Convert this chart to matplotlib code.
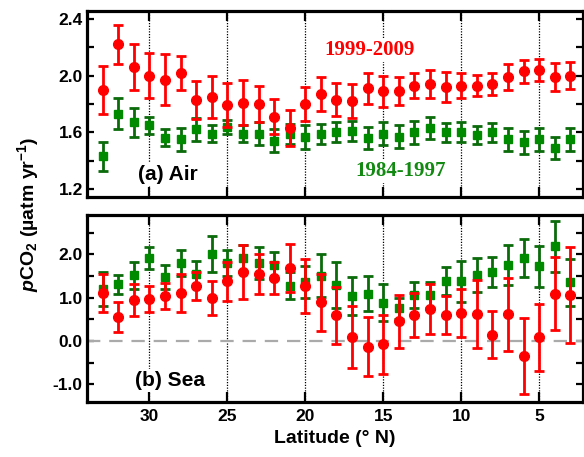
import numpy as np
import matplotlib
matplotlib.use('Agg')
import matplotlib.pyplot as plt
from matplotlib.ticker import MultipleLocator

plt.rcParams['font.family'] = ['Liberation Sans', 'DejaVu Sans']
plt.rcParams['font.weight'] = 'bold'
plt.rcParams['mathtext.fontset'] = 'custom'
plt.rcParams['mathtext.rm'] = 'Liberation Sans:bold'
plt.rcParams['mathtext.it'] = 'Liberation Sans:bold:italic'
plt.rcParams['mathtext.bf'] = 'Liberation Sans:bold'

# latitude bins (deg N)
lat = np.arange(33, 2, -1)

# (a) Air, 1999-2009
air_new = [1.90, 2.22, 2.06, 2.00, 1.97, 2.02, 1.83, 1.85, 1.79, 1.81, 1.80, 1.71, 1.63, 1.80, 1.87,
           1.83, 1.82, 1.91, 1.89, 1.89, 1.93, 1.94, 1.92, 1.93, 1.93, 1.94, 1.99, 2.03, 2.04, 1.99, 2.00]
air_new_err = [0.17, 0.14, 0.16, 0.16, 0.18, 0.12, 0.135, 0.15, 0.155, 0.16, 0.13, 0.125, 0.13, 0.12, 0.12,
               0.115, 0.12, 0.11, 0.11, 0.10, 0.09, 0.10, 0.105, 0.09, 0.075, 0.08, 0.09, 0.08, 0.08, 0.10, 0.095]
# (a) Air, 1984-1997
air_old = [1.43, 1.73, 1.67, 1.65, 1.56, 1.55, 1.62, 1.59, 1.64, 1.59, 1.59, 1.54, 1.59, 1.57, 1.59,
           1.60, 1.61, 1.56, 1.59, 1.57, 1.60, 1.63, 1.60, 1.60, 1.58, 1.60, 1.55, 1.53, 1.55, 1.49, 1.55]
air_old_err = [0.10, 0.11, 0.10, 0.06, 0.06, 0.08, 0.08, 0.06, 0.05, 0.06, 0.08, 0.08, 0.07, 0.085, 0.07,
               0.07, 0.07, 0.08, 0.08, 0.08, 0.08, 0.08, 0.065, 0.07, 0.065, 0.065, 0.08, 0.08, 0.08, 0.08, 0.08]

# (b) Sea, 1999-2009
sea_new = [1.10, 0.55, 0.95, 0.98, 1.04, 1.11, 1.27, 0.99, 1.38, 1.59, 1.55, 1.46, 1.69, 1.27, 0.89,
           0.59, 0.09, -0.13, -0.07, 0.45, 0.60, 0.74, 0.60, 0.64, 0.62, 0.15, 0.62, -0.34, 0.09, 1.09, 1.06]
sea_new_err = [0.44, 0.35, 0.37, 0.30, 0.30, 0.43, 0.32, 0.39, 0.45, 0.63, 0.46, 0.37, 0.55, 0.62, 0.65,
               0.65, 0.72, 0.68, 0.68, 0.61, 0.50, 0.57, 0.44, 0.55, 0.78, 0.54, 0.84, 0.88, 0.77, 0.84, 1.11]
# (b) Sea, 1984-1997
sea_old = [1.19, 1.31, 1.52, 1.91, 1.48, 1.80, 1.55, 2.01, 1.80, 1.91, 1.80, 1.75, 1.28, 1.37, 1.51,
           1.29, 1.04, 1.09, 0.88, 0.75, 1.05, 1.05, 1.38, 1.38, 1.52, 1.59, 1.75, 1.92, 1.72, 2.18, 1.35]
sea_old_err = [0.39, 0.22, 0.31, 0.26, 0.27, 0.30, 0.29, 0.41, 0.30, 0.30, 0.36, 0.31, 0.31, 0.37, 0.49,
               0.53, 0.44, 0.40, 0.43, 0.25, 0.30, 0.30, 0.33, 0.47, 0.39, 0.35, 0.46, 0.44, 0.47, 0.58, 0.55]

RED = '#ff0000'
GREEN = '#008a00'
GREEN_BAR = '#0b6b0b'

fig = plt.figure(figsize=(5.84, 4.57), dpi=100)
ax1 = fig.add_axes([0.149, 0.569, 0.849, 0.407])
ax2 = fig.add_axes([0.149, 0.120, 0.849, 0.409])


def draw(ax, old, old_err, new, new_err):
    ax.errorbar(lat, old, yerr=old_err, fmt='s', color=GREEN, ecolor=GREEN_BAR,
                ms=6.2, elinewidth=2, capsize=3.5, capthick=2, zorder=4)
    ax.errorbar(lat, new, yerr=new_err, fmt='o', color=RED, ecolor=RED,
                ms=7, elinewidth=2, capsize=3.5, capthick=2, zorder=5)
    for x in [30, 25, 20, 15, 10, 5]:
        ax.axvline(x, color='black', ls=(0, (1, 1.2)), lw=0.9, zorder=1)
    ax.set_xlim(34, 2.2)
    ax.xaxis.set_major_locator(MultipleLocator(5))
    ax.tick_params(axis='both', which='both', direction='in', top=True, right=True,
                   width=1.6, labelsize=12.5)
    ax.tick_params(axis='y', which='both', length=5, pad=3)
    ax.tick_params(axis='x', which='major', length=7, pad=5)
    for sp in ax.spines.values():
        sp.set_linewidth(2.3)


draw(ax1, air_old, air_old_err, air_new, air_new_err)
ax1.set_ylim(1.144, 2.456)
ax1.yaxis.set_major_locator(MultipleLocator(0.4))
ax1.yaxis.set_minor_locator(MultipleLocator(0.2))
ax1.yaxis.set_major_formatter(matplotlib.ticker.FormatStrFormatter('%.1f'))
ax1.tick_params(labelbottom=False)

box = dict(facecolor='white', edgecolor='none', pad=1.5)
ax1.text(28.8, 1.30, '(a) Air', fontsize=15, fontweight='bold', ha='center', va='center',
         bbox=box, zorder=3)
ax1.text(15.9, 2.18, '1999-2009', fontsize=15, fontweight='bold', family='Liberation Serif',
         color=RED, ha='center', va='center', bbox=box, zorder=3)
ax1.text(13.9, 1.33, '1984-1997', fontsize=15, fontweight='bold', family='Liberation Serif',
         color='#128a12', ha='center', va='center', bbox=box, zorder=3)

draw(ax2, sea_old, sea_old_err, sea_new, sea_new_err)
ax2.axhline(0, color='#aaaaaa', lw=1.6, dashes=(6, 4), zorder=2)
ax2.set_ylim(-1.41, 2.9)
ax2.set_yticks([-1.0, 0.0, 1.0, 2.0])
ax2.yaxis.set_minor_locator(MultipleLocator(0.5))
ax2.yaxis.set_major_formatter(matplotlib.ticker.FormatStrFormatter('%.1f'))
ax2.text(28.7, -0.92, '(b) Sea', fontsize=15, fontweight='bold', ha='center', va='center',
         bbox=box, zorder=3)
ax2.set_xlabel('Latitude (° N)', fontsize=14, fontweight='bold', labelpad=4)

fig.text(0.048, 0.53, r'$\it{p}$CO$_2$ (µatm yr$^{-1}$)', rotation=90, fontsize=14,
         fontweight='bold', ha='center', va='center')

fig.savefig('out.png', dpi=100)
